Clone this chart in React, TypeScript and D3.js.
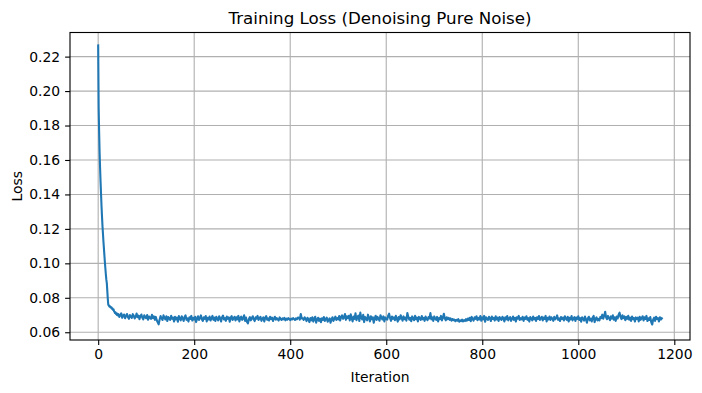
import { useEffect, useRef } from 'react';
import * as d3 from 'd3';

// loss for iterations 0..41, one value per iteration
const earlyLoss = [
  0.2265, 0.1900, 0.1760, 0.1640, 0.1550, 0.1470, 0.1400, 0.1330, 0.1270, 0.1215,
  0.1170, 0.1125, 0.1085, 0.1045, 0.1005, 0.0970, 0.0935, 0.0905, 0.0885, 0.0840,
  0.0795, 0.0760, 0.0756, 0.0750, 0.0753, 0.0746, 0.0748, 0.0741, 0.0744, 0.0736,
  0.0738, 0.0729, 0.0733, 0.0722, 0.0718, 0.0712, 0.0716, 0.0706, 0.0711, 0.0701,
  0.0707, 0.0698,
];

// loss for iterations 42..1174, read every 2 iterations
const plateauStart = 42;
const plateauStep = 2;
const plateauLoss = [
  0.0705, 0.0689, 0.0700, 0.0710, 0.0684, 0.0697, 0.0703, 0.0681, 0.0694, 0.0706, 0.0687, 0.0678, 0.0700, 0.0691, 0.0683, 0.0705, 0.0696, 0.0680, 0.0690, 0.0709,
  0.0687, 0.0697, 0.0676, 0.0694, 0.0703, 0.0684, 0.0675, 0.0698, 0.0688, 0.0681, 0.0700, 0.0673, 0.0691, 0.0685, 0.0678, 0.0701, 0.0682, 0.0692, 0.0672, 0.0689,
  0.0670, 0.0658, 0.0646, 0.0674, 0.0694, 0.0681, 0.0671, 0.0698, 0.0684, 0.0675, 0.0693, 0.0665, 0.0688, 0.0680, 0.0672, 0.0696, 0.0678, 0.0685, 0.0662, 0.0690,
  0.0675, 0.0685, 0.0661, 0.0694, 0.0679, 0.0669, 0.0693, 0.0682, 0.0665, 0.0688, 0.0698, 0.0672, 0.0681, 0.0662, 0.0687, 0.0677, 0.0695, 0.0668, 0.0684, 0.0674,
  0.0690, 0.0659, 0.0679, 0.0693, 0.0671, 0.0682, 0.0698, 0.0675, 0.0666, 0.0687, 0.0678, 0.0694, 0.0663, 0.0684, 0.0674, 0.0691, 0.0668, 0.0681, 0.0695, 0.0672,
  0.0685, 0.0665, 0.0690, 0.0677, 0.0669, 0.0693, 0.0681, 0.0662, 0.0687, 0.0697, 0.0674, 0.0682, 0.0666, 0.0691, 0.0678, 0.0687, 0.0661, 0.0684, 0.0694, 0.0671,
  0.0681, 0.0690, 0.0668, 0.0687, 0.0675, 0.0695, 0.0663, 0.0682, 0.0691, 0.0672, 0.0679, 0.0698, 0.0666, 0.0685, 0.0660, 0.0652, 0.0677, 0.0688, 0.0669, 0.0681,
  0.0693, 0.0674, 0.0665, 0.0687, 0.0679, 0.0695, 0.0671, 0.0682, 0.0690, 0.0666, 0.0678, 0.0687, 0.0662, 0.0684, 0.0694, 0.0672, 0.0681, 0.0668, 0.0690, 0.0677,
  0.0685, 0.0665, 0.0679, 0.0690, 0.0673, 0.0682, 0.0675, 0.0668, 0.0686, 0.0678, 0.0671, 0.0681, 0.0675, 0.0683, 0.0669, 0.0679, 0.0673, 0.0682, 0.0677, 0.0670,
  0.0679, 0.0674, 0.0682, 0.0677, 0.0671, 0.0681, 0.0675, 0.0685, 0.0684, 0.0673, 0.0706, 0.0680, 0.0681, 0.0672, 0.0687, 0.0678, 0.0665, 0.0684, 0.0675, 0.0659,
  0.0682, 0.0669, 0.0687, 0.0662, 0.0678, 0.0690, 0.0656, 0.0674, 0.0684, 0.0666, 0.0679, 0.0658, 0.0681, 0.0671, 0.0688, 0.0665, 0.0677, 0.0685, 0.0661, 0.0672,
  0.0681, 0.0655, 0.0675, 0.0687, 0.0666, 0.0679, 0.0691, 0.0671, 0.0682, 0.0675, 0.0694, 0.0668, 0.0688, 0.0698, 0.0678, 0.0685, 0.0706, 0.0672, 0.0693, 0.0682,
  0.0695, 0.0669, 0.0704, 0.0682, 0.0663, 0.0691, 0.0678, 0.0710, 0.0670, 0.0688, 0.0697, 0.0665, 0.0714, 0.0683, 0.0675, 0.0701, 0.0659, 0.0689, 0.0679, 0.0669,
  0.0702, 0.0683, 0.0663, 0.0693, 0.0676, 0.0687, 0.0655, 0.0681, 0.0696, 0.0671, 0.0689, 0.0679, 0.0667, 0.0699, 0.0683, 0.0674, 0.0692, 0.0663, 0.0686, 0.0677,
  0.0673, 0.0696, 0.0708, 0.0682, 0.0666, 0.0691, 0.0678, 0.0686, 0.0670, 0.0695, 0.0679, 0.0662, 0.0688, 0.0675, 0.0699, 0.0683, 0.0667, 0.0692, 0.0676, 0.0685,
  0.0667, 0.0712, 0.0689, 0.0673, 0.0683, 0.0664, 0.0692, 0.0679, 0.0670, 0.0695, 0.0676, 0.0685, 0.0663, 0.0689, 0.0680, 0.0672, 0.0694, 0.0675, 0.0683, 0.0666,
  0.0691, 0.0678, 0.0670, 0.0688, 0.0680, 0.0711, 0.0675, 0.0686, 0.0666, 0.0692, 0.0679, 0.0672, 0.0689, 0.0663, 0.0682, 0.0676, 0.0695, 0.0669, 0.0685, 0.0707,
  0.0680, 0.0669, 0.0687, 0.0676, 0.0684, 0.0672, 0.0681, 0.0667, 0.0677, 0.0670, 0.0674, 0.0664, 0.0672, 0.0667, 0.0676, 0.0661, 0.0669, 0.0665, 0.0673, 0.0663,
  0.0670, 0.0665, 0.0676, 0.0667, 0.0680, 0.0671, 0.0684, 0.0664, 0.0689, 0.0676, 0.0668, 0.0687, 0.0678, 0.0693, 0.0670, 0.0683, 0.0674, 0.0694, 0.0667, 0.0686,
  0.0675, 0.0695, 0.0661, 0.0687, 0.0679, 0.0671, 0.0690, 0.0681, 0.0665, 0.0691, 0.0677, 0.0684, 0.0668, 0.0693, 0.0674, 0.0685, 0.0666, 0.0688, 0.0679, 0.0671,
  0.0690, 0.0682, 0.0663, 0.0687, 0.0675, 0.0694, 0.0669, 0.0681, 0.0688, 0.0666, 0.0678, 0.0691, 0.0672, 0.0684, 0.0662, 0.0687, 0.0679, 0.0695, 0.0671, 0.0682,
  0.0675, 0.0690, 0.0666, 0.0685, 0.0678, 0.0693, 0.0672, 0.0682, 0.0662, 0.0688, 0.0679, 0.0669, 0.0691, 0.0675, 0.0684, 0.0665, 0.0687, 0.0677, 0.0694, 0.0671,
  0.0681, 0.0690, 0.0668, 0.0685, 0.0677, 0.0695, 0.0663, 0.0684, 0.0674, 0.0691, 0.0671, 0.0687, 0.0679, 0.0666, 0.0690, 0.0675, 0.0682, 0.0698, 0.0672, 0.0681,
  0.0665, 0.0688, 0.0677, 0.0685, 0.0668, 0.0693, 0.0679, 0.0672, 0.0690, 0.0662, 0.0684, 0.0675, 0.0694, 0.0669, 0.0681, 0.0688, 0.0666, 0.0685, 0.0677, 0.0693,
  0.0671, 0.0682, 0.0661, 0.0687, 0.0678, 0.0668, 0.0691, 0.0674, 0.0655, 0.0681, 0.0690, 0.0669, 0.0679, 0.0663, 0.0685, 0.0695, 0.0659, 0.0678, 0.0687, 0.0668,
  0.0678, 0.0669, 0.0689, 0.0682, 0.0702, 0.0678, 0.0696, 0.0719, 0.0686, 0.0676, 0.0695, 0.0683, 0.0670, 0.0692, 0.0679, 0.0698, 0.0673, 0.0686, 0.0666, 0.0691,
  0.0680, 0.0702, 0.0714, 0.0688, 0.0676, 0.0698, 0.0682, 0.0692, 0.0670, 0.0689, 0.0678, 0.0696, 0.0673, 0.0685, 0.0666, 0.0691, 0.0676, 0.0683, 0.0662, 0.0686,
  0.0677, 0.0685, 0.0663, 0.0690, 0.0672, 0.0682, 0.0693, 0.0668, 0.0687, 0.0677, 0.0695, 0.0665, 0.0681, 0.0671, 0.0688, 0.0658, 0.0645, 0.0674, 0.0685, 0.0666,
  0.0690, 0.0677, 0.0682, 0.0663, 0.0687, 0.0674, 0.0681,
];

const xTicks = [0, 200, 400, 600, 800, 1000, 1200];
const yTicks = [0.06, 0.08, 0.10, 0.12, 0.14, 0.16, 0.18, 0.20, 0.22];

const W = 702;
const H = 393;
const FONT = '"DejaVu Sans", sans-serif';
const PT = 100 / 72; // matplotlib points to px at 100 dpi

export default function App() {
  const svgRef = useRef<SVGSVGElement>(null);

  useEffect(() => {
    if (!svgRef.current) return;
    const svg = d3.select(svgRef.current);
    svg.selectAll('*').remove();

    const left = 70, right = 690, top = 32.5, bottom = 340;

    const points: [number, number][] = [
      ...earlyLoss.map((v, i) => [i, v] as [number, number]),
      ...plateauLoss.map((v, i) => [plateauStart + i * plateauStep, v] as [number, number]),
    ];

    const x = d3.scaleLinear().domain([-58.7, 1232.7]).range([left, right]);
    const y = d3.scaleLinear().domain([0.0555, 0.2340]).range([bottom, top]);

    svg.append('rect').attr('width', W).attr('height', H).attr('fill', '#fff');

    // grid
    const grid = svg.append('g').attr('stroke', '#b0b0b0').attr('stroke-width', 0.8 * PT);
    xTicks.forEach(t => {
      grid.append('line').attr('x1', x(t)).attr('x2', x(t)).attr('y1', top).attr('y2', bottom);
    });
    yTicks.forEach(t => {
      grid.append('line').attr('x1', left).attr('x2', right).attr('y1', y(t)).attr('y2', y(t));
    });

    // loss line
    const line = d3.line<[number, number]>().x(d => x(d[0])).y(d => y(d[1]));
    svg.append('path')
      .datum(points)
      .attr('d', line)
      .attr('fill', 'none')
      .attr('stroke', '#1f77b4')
      .attr('stroke-width', 1.5 * PT)
      .attr('stroke-linejoin', 'round')
      .attr('stroke-linecap', 'square');

    // spines
    svg.append('rect')
      .attr('x', left).attr('y', top)
      .attr('width', right - left).attr('height', bottom - top)
      .attr('fill', 'none').attr('stroke', '#000').attr('stroke-width', 0.8 * PT);

    // x axis
    const xAxis = svg.append('g')
      .attr('transform', `translate(0, ${bottom})`)
      .call(d3.axisBottom(x).tickValues(xTicks).tickFormat(d3.format('d')).tickSize(4.9).tickPadding(4.4));
    xAxis.select('.domain').remove();
    xAxis.selectAll('line').attr('stroke', '#000').attr('stroke-width', 0.8 * PT);
    xAxis.selectAll('text').attr('font-family', FONT).attr('font-size', 13.9).attr('fill', '#000');

    // y axis
    const yAxis = svg.append('g')
      .attr('transform', `translate(${left}, 0)`)
      .call(d3.axisLeft(y).tickValues(yTicks).tickFormat(d3.format('.2f')).tickSize(4.9).tickPadding(4.9));
    yAxis.select('.domain').remove();
    yAxis.selectAll('line').attr('stroke', '#000').attr('stroke-width', 0.8 * PT);
    yAxis.selectAll('text').attr('font-family', FONT).attr('font-size', 13.9).attr('fill', '#000');

    // labels
    svg.append('text')
      .attr('x', (left + right) / 2).attr('y', 382)
      .attr('text-anchor', 'middle')
      .attr('font-family', FONT).attr('font-size', 13.9)
      .text('Iteration');

    svg.append('text')
      .attr('transform', `translate(22, ${(top + bottom) / 2}) rotate(-90)`)
      .attr('text-anchor', 'middle')
      .attr('font-family', FONT).attr('font-size', 13.9)
      .text('Loss');

    svg.append('text')
      .attr('x', (left + right) / 2).attr('y', 24)
      .attr('text-anchor', 'middle')
      .attr('font-family', FONT).attr('font-size', 16.7)
      .text('Training Loss (Denoising Pure Noise)');
  }, []);

  return (
    <svg
      ref={svgRef}
      width={W}
      height={H}
      style={{ position: 'absolute', left: 0, top: 0, display: 'block' }}
    />
  );
}
